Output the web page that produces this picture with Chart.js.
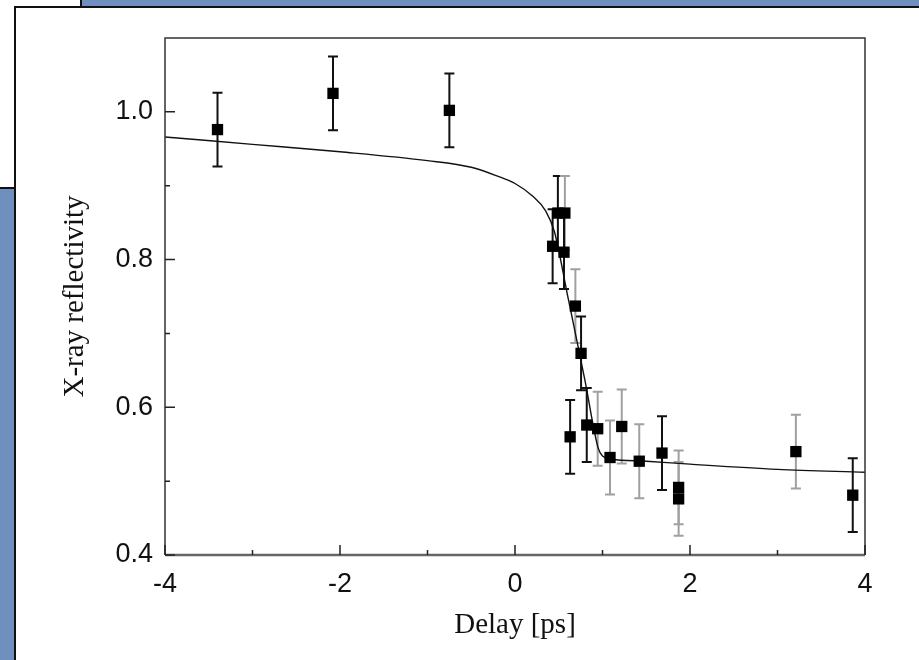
<!DOCTYPE html>
<html>
<head>
<meta charset="utf-8">
<script src="https://cdn.jsdelivr.net/npm/chart.js@4.4.1/dist/chart.umd.min.js"></script>
<style>
  html, body { margin: 0; padding: 0; background: #fff; }
  body { width: 919px; height: 660px; position: relative; overflow: hidden; }
  .blue { position: absolute; background: #6f8fbe; }
  #topBar { left: 80px; top: 0; width: 839px; height: 6px; border-left: 2px solid #111; }
  #sideBar { left: 0; top: 187px; width: 14px; height: 473px; border-top: 2px solid #111; }
  #panel { position: absolute; left: 14px; top: 6px; width: 920px; height: 700px;
           border-left: 2px solid #111; border-top: 2px solid #111; background: #fff; }
  #wrap { position: absolute; left: 0; top: 0; width: 919px; height: 660px; }
</style>
</head>
<body>
<div class="blue" id="topBar"></div>
<div class="blue" id="sideBar"></div>
<div id="panel"></div>
<div id="wrap"><canvas id="chart"></canvas></div>
<script>
// Measured reflectivity vs pump-probe delay
const delays       = [-3.40, -2.08, -0.75, 0.43, 0.49, 0.57, 0.56, 0.69, 0.755, 0.63, 0.82, 0.945, 1.086, 1.22, 1.42, 1.68, 1.87, 1.87, 3.21, 3.86];
const reflectivity = [0.976, 1.025, 1.002, 0.818, 0.863, 0.863, 0.810, 0.737, 0.673, 0.560, 0.576, 0.571, 0.532, 0.574, 0.527, 0.538, 0.4915, 0.476, 0.540, 0.481];
const errors       = [0.050, 0.050, 0.050, 0.050, 0.050, 0.050, 0.050, 0.050, 0.050, 0.050, 0.050, 0.050, 0.050, 0.050, 0.050, 0.050, 0.050, 0.050, 0.050, 0.050];
// 1 = dark error bar, 0 = grey error bar
const darkBars     = [1, 1, 1, 1, 1, 0, 1, 0, 1, 1, 1, 0, 0, 0, 0, 1, 0, 0, 0, 1];

// Fitted model curve
const fitX = [-4, -3, -2, -1, -0.5, -0.2, 0, 0.2, 0.35, 0.45, 0.6, 0.8, 0.95, 1.0, 1.1, 1.5, 2, 3, 4];
const fitY = [0.966, 0.956, 0.946, 0.934, 0.925, 0.913, 0.903, 0.886, 0.866, 0.838, 0.752, 0.636, 0.545, 0.534, 0.530, 0.527, 0.523, 0.516, 0.512];

// Axis ticks
const xMajor = [-4, -2, 0, 2, 4];
const xMinor = [-3, -1, 1, 3];
const yMajor = [0.4, 0.6, 0.8, 1.0];
const yMinor = [0.5, 0.7, 0.9];

const points = delays.map((d, i) => ({ x: d, y: reflectivity[i] }));
const curve = fitX.map((d, i) => ({ x: d, y: fitY[i] }));

const errorBars = {
  id: 'errorBars',
  beforeDatasetsDraw(chart) {
    const { ctx, scales: { x, y } } = chart;
    ctx.save();
    ctx.lineWidth = 2;
    delays.forEach((d, i) => {
      const px = x.getPixelForValue(d);
      const top = y.getPixelForValue(reflectivity[i] + errors[i]);
      const bot = y.getPixelForValue(reflectivity[i] - errors[i]);
      ctx.strokeStyle = darkBars[i] ? '#111' : '#a0a0a0';
      ctx.beginPath();
      ctx.moveTo(px, top); ctx.lineTo(px, bot);
      ctx.moveTo(px - 5, top); ctx.lineTo(px + 5, top);
      ctx.moveTo(px - 5, bot); ctx.lineTo(px + 5, bot);
      ctx.stroke();
    });
    ctx.restore();
  }
};

const frameAndTicks = {
  id: 'frameAndTicks',
  afterDraw(chart) {
    const { ctx, chartArea: a, scales: { x, y } } = chart;
    ctx.save();
    // box
    ctx.strokeStyle = '#333';
    ctx.lineWidth = 1.5;
    ctx.beginPath();
    ctx.moveTo(a.left, a.bottom); ctx.lineTo(a.left, a.top);
    ctx.lineTo(a.right, a.top); ctx.lineTo(a.right, a.bottom);
    ctx.stroke();
    ctx.strokeStyle = '#666';
    ctx.lineWidth = 2.5;
    ctx.beginPath();
    ctx.moveTo(a.left, a.bottom); ctx.lineTo(a.right, a.bottom);
    ctx.stroke();
    // inward ticks
    ctx.strokeStyle = '#222';
    ctx.lineWidth = 1.5;
    ctx.beginPath();
    xMajor.forEach(v => { const p = x.getPixelForValue(v); ctx.moveTo(p, a.bottom); ctx.lineTo(p, a.bottom - 10); });
    xMinor.forEach(v => { const p = x.getPixelForValue(v); ctx.moveTo(p, a.bottom); ctx.lineTo(p, a.bottom - 5); });
    yMajor.forEach(v => { const p = y.getPixelForValue(v); ctx.moveTo(a.left, p); ctx.lineTo(a.left + 10, p); });
    yMinor.forEach(v => { const p = y.getPixelForValue(v); ctx.moveTo(a.left, p); ctx.lineTo(a.left + 5, p); });
    ctx.stroke();
    ctx.restore();
  }
};

new Chart(document.getElementById('chart'), {
  type: 'scatter',
  data: {
    datasets: [
      {
        label: 'data',
        data: points,
        pointStyle: 'rect',
        pointRadius: 8,
        pointHoverRadius: 8,
        backgroundColor: '#000',
        borderWidth: 0
      },
      {
        label: 'fit',
        type: 'line',
        data: curve,
        borderColor: '#111',
        borderWidth: 1.4,
        pointRadius: 0,
        fill: false,
        cubicInterpolationMode: 'monotone'
      }
    ]
  },
  options: {
    responsive: true,
    maintainAspectRatio: false,
    animation: false,
    events: [],
    layout: { padding: { left: 0, right: 54, top: 38, bottom: 0 } },
    plugins: { legend: { display: false }, tooltip: { enabled: false } },
    scales: {
      x: {
        type: 'linear',
        min: -4, max: 4,
        afterFit(s) { s.height = 105; },
        afterBuildTicks(s) { s.ticks = xMajor.map(v => ({ value: v })); },
        grid: { display: false, drawTicks: false },
        border: { display: false },
        ticks: {
          padding: 13,
          color: '#111',
          font: { family: '"Liberation Sans", Arial, sans-serif', size: 27 },
          callback: v => String(v)
        },
        title: {
          display: true,
          text: 'Delay [ps]',
          color: '#111',
          font: { family: '"Liberation Serif", "Times New Roman", serif', size: 29 },
          padding: { top: 0, bottom: 17 }
        }
      },
      y: {
        type: 'linear',
        min: 0.4, max: 1.1,
        afterFit(s) { s.width = 165; },
        afterBuildTicks(s) { s.ticks = yMajor.map(v => ({ value: v })); },
        grid: { display: false, drawTicks: false },
        border: { display: false },
        ticks: {
          padding: 12,
          color: '#111',
          font: { family: '"Liberation Sans", Arial, sans-serif', size: 27 },
          callback: v => v.toFixed(1)
        },
        title: {
          display: true,
          text: 'X-ray reflectivity',
          color: '#111',
          font: { family: '"Liberation Serif", "Times New Roman", serif', size: 29 },
          padding: { top: 58, bottom: 0 }
        }
      }
    }
  },
  plugins: [errorBars, frameAndTicks]
});
</script>
</body>
</html>
